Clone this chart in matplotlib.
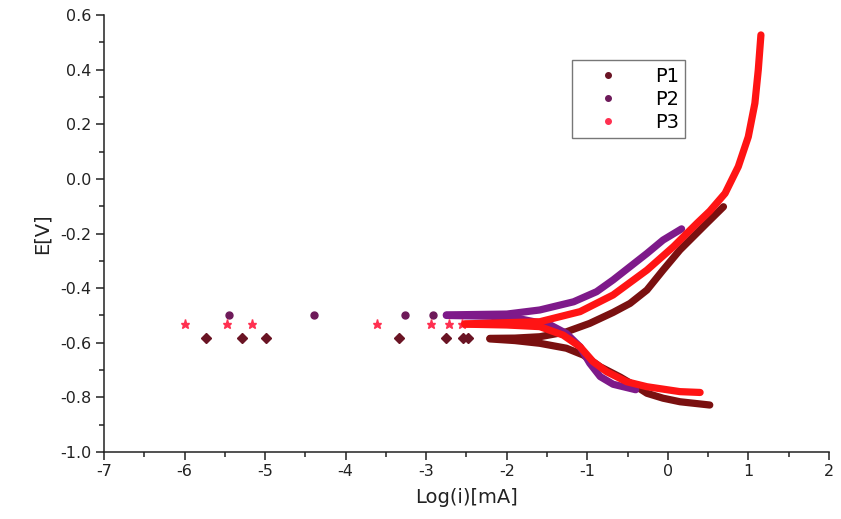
import matplotlib
matplotlib.use("Agg")
import matplotlib.pyplot as plt
from matplotlib.lines import Line2D
from matplotlib.ticker import MultipleLocator

plt.rcParams['font.family'] = ['DejaVu Sans']

# ---- data ----
series_names = ["P1", "P2", "P3"]

# P1 (maroon)
p1_sparse_x = [-5.73, -5.29, -4.99, -3.34, -2.75, -2.54, -2.48]
p1_sparse_y = [-0.583, -0.583, -0.583, -0.583, -0.583, -0.583, -0.583]
p1_anodic_x = [-2.21, -1.9, -1.59, -1.26, -0.97, -0.68, -0.47, -0.26, -0.06, 0.15, 0.48, 0.69]
p1_anodic_y = [-0.584, -0.583, -0.578, -0.560, -0.529, -0.489, -0.456, -0.407, -0.334,
               -0.260, -0.163, -0.102]
p1_cath_x = [-2.21, -1.9, -1.59, -1.26, -1.05, -0.84, -0.59, -0.35, -0.26, -0.06, 0.15, 0.52]
p1_cath_y = [-0.586, -0.592, -0.602, -0.620, -0.645, -0.688, -0.726, -0.768, -0.785,
             -0.803, -0.816, -0.828]

# P2 (purple)
p2_sparse_x = [-5.45, -4.39, -3.26, -2.92]
p2_sparse_y = [-0.498, -0.498, -0.498, -0.498]
p2_anodic_x = [-2.75, -2.0, -1.59, -1.17, -0.885, -0.68, -0.26, -0.06, 0.17]
p2_anodic_y = [-0.498, -0.495, -0.480, -0.450, -0.413, -0.370, -0.273, -0.224, -0.183]
p2_cath_x = [-2.75, -2.2, -1.88, -1.46, -1.26, -1.09, -0.97, -0.84, -0.68, -0.47, -0.40]
p2_cath_y = [-0.500, -0.503, -0.510, -0.535, -0.566, -0.615, -0.675, -0.724, -0.752,
             -0.767, -0.772]

# P3 (red)
p3_sparse_x = [-5.99, -5.47, -5.16, -3.61, -2.94, -2.72, -2.56]
p3_sparse_y = [-0.531, -0.531, -0.531, -0.531, -0.531, -0.531, -0.531]
p3_anodic_x = [-2.52, -2.29, -1.59, -1.09, -0.68, -0.26, 0.07, 0.36, 0.52, 0.71,
               0.874, 0.998, 1.08, 1.122, 1.155]
p3_anodic_y = [-0.531, -0.529, -0.523, -0.486, -0.425, -0.334, -0.248, -0.163,
               -0.118, -0.053, 0.045, 0.154, 0.277, 0.399, 0.527]
p3_cath_x = [-2.52, -2.0, -1.59, -1.30, -1.09, -0.93, -0.76, -0.51, -0.26, 0.15, 0.40]
p3_cath_y = [-0.532, -0.535, -0.541, -0.572, -0.615, -0.669, -0.706, -0.743, -0.761,
             -0.779, -0.782]

colors = ["#7A1010", "#7E1A8A", "#FF1414"]
sparse_colors = ["#6A1424", "#6E1A5A", "#FF3050"]
markers = ["D", "o", "*"]

fig = plt.figure(figsize=(8.41, 5.19), dpi=100)
ax = fig.add_axes([104/841, 67/519, 725/841, 437/519])

data = [
    (p1_sparse_x, p1_sparse_y, p1_anodic_x, p1_anodic_y, p1_cath_x, p1_cath_y),
    (p2_sparse_x, p2_sparse_y, p2_anodic_x, p2_anodic_y, p2_cath_x, p2_cath_y),
    (p3_sparse_x, p3_sparse_y, p3_anodic_x, p3_anodic_y, p3_cath_x, p3_cath_y),
]
zorders = [2, 3, 4]
for (sx, sy, ax_, ay, cx, cy), c, sc, m, z in zip(data, colors, sparse_colors, markers, zorders):
    ax.plot(sx, sy, linestyle="none", marker=m, color=sc, markersize=5 if m != "*" else 6.5,
            zorder=z)
    ax.plot(ax_, ay, color=c, lw=5.2, solid_capstyle="round", solid_joinstyle="round",
            zorder=z)
    ax.plot(cx, cy, color=c, lw=5.2, solid_capstyle="round", solid_joinstyle="round",
            zorder=z)

ax.set_xlim(-7, 2)
ax.set_ylim(-1.0, 0.6)
ax.xaxis.set_major_locator(MultipleLocator(1))
ax.xaxis.set_minor_locator(MultipleLocator(0.5))
ax.yaxis.set_major_locator(MultipleLocator(0.2))
ax.yaxis.set_minor_locator(MultipleLocator(0.1))
ax.yaxis.set_major_formatter(plt.FuncFormatter(lambda v, p: f"{v:.1f}"))
ax.xaxis.set_major_formatter(plt.FuncFormatter(lambda v, p: f"{v:.0f}"))

for s in ["top", "right"]:
    ax.spines[s].set_visible(False)
for s in ["left", "bottom"]:
    ax.spines[s].set_linewidth(1.1)
    ax.spines[s].set_color("#222222")

ax.tick_params(which="major", direction="out", length=6, width=1.1, labelsize=11.5,
               colors="#222222", pad=3)
ax.tick_params(which="minor", direction="out", length=3.5, width=1.1, colors="#222222")

ax.set_xlabel("Log(i)[mA]", fontsize=14, color="#222222", labelpad=6)
ax.set_ylabel("E[V]", fontsize=14, color="#222222", labelpad=6)

handles = [Line2D([], [], linestyle="none", marker="o", color=sc, markersize=4)
           for sc in sparse_colors]
leg = ax.legend(handles, series_names, loc="upper left",
                bbox_to_anchor=((572-104)/725, (452-60)/437),
                fontsize=14, frameon=True, fancybox=False, handlelength=3.0,
                handletextpad=0.9, borderpad=0.35, labelspacing=0.2, borderaxespad=0)
leg.get_frame().set_edgecolor("#555555")
leg.get_frame().set_linewidth(1.0)

fig.savefig("out.png", dpi=100, facecolor="white")
